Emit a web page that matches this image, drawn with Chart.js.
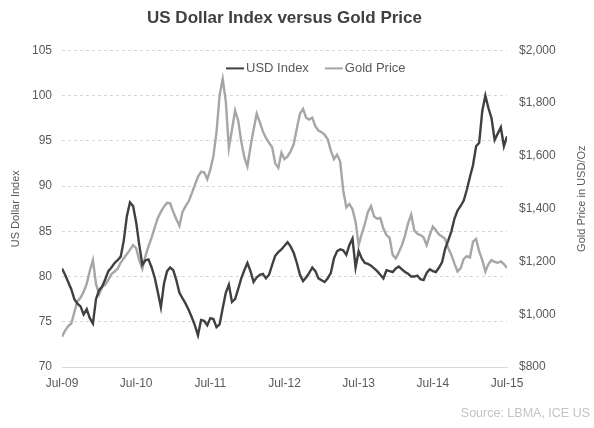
<!DOCTYPE html>
<html>
<head>
<meta charset="utf-8">
<script src="https://cdn.jsdelivr.net/npm/chart.js@4.4.0/dist/chart.umd.min.js"></script>
<style>
  html, body { margin: 0; padding: 0; background: #fff; }
</style>
</head>
<body>
<canvas id="chart" width="594" height="428"></canvas>
<script>
// x axis tick labels, one per year (every 12 months)
const tickLabels = ['Jul-09', 'Jul-10', 'Jul-11', 'Jul-12', 'Jul-13', 'Jul-14', 'Jul-15'];

// semi-monthly readings, Jul 2009 -> Jul 2015
const usdIndex = [
  80.9, 80.2, 79.4, 78.6, 77.5, 77.0, 76.7, 75.8, 76.4, 75.4,
  74.8, 77.5, 78.5, 78.9, 79.7, 80.6, 81.0, 81.5, 81.8, 82.2,
  84.0, 86.7, 88.2, 87.8, 86.0, 83.5, 81.3, 81.8, 81.9, 81.0,
  79.9, 78.3, 76.6, 79.2, 80.6, 81.0, 80.7, 79.6, 78.2, 77.6,
  77.0, 76.3, 75.5, 74.6, 73.5, 75.2, 75.1, 74.6, 75.4, 75.3,
  74.4, 74.7, 76.5, 78.2, 79.1, 77.2, 77.5, 78.6, 79.8, 80.7,
  81.5, 80.6, 79.4, 79.9, 80.2, 80.3, 79.8, 80.2, 81.3, 82.3,
  82.7, 83.0, 83.4, 83.8, 83.3, 82.6, 81.5, 80.2, 79.5, 79.9,
  80.4, 81.0, 80.6, 79.8, 79.6, 79.4, 79.8, 80.4, 82.0, 82.8,
  83.0, 82.9, 82.4, 83.5, 84.2, 81.0, 82.8, 82.0, 81.5, 81.4,
  81.2, 80.9, 80.6, 80.2, 79.8, 80.7, 80.6, 80.5, 80.9, 81.1,
  80.8, 80.5, 80.3, 80.0, 80.0, 80.1, 79.7, 79.6, 80.4, 80.8,
  80.6, 80.5, 81.0, 81.6, 83.1, 84.0, 85.0, 86.4, 87.3, 87.8,
  88.4, 89.6, 91.0, 92.3, 94.4, 94.8, 98.3, 100.0, 98.6, 97.5,
  95.1, 95.8, 96.5, 94.4, 95.5
];

const goldPrice = [
  915, 938, 955, 965, 1008, 1050, 1062, 1085, 1115, 1165,
  1205, 1115, 1075, 1104, 1112, 1130, 1152, 1162, 1172, 1196,
  1212, 1228, 1245, 1262, 1250, 1205, 1172, 1220, 1258, 1290,
  1328, 1365, 1388, 1408, 1422, 1420, 1388, 1360, 1335, 1388,
  1410, 1428, 1458, 1490, 1521, 1540, 1538, 1512, 1548, 1600,
  1690, 1830, 1892, 1808, 1630, 1699, 1772, 1735, 1655, 1595,
  1560, 1635, 1700, 1760, 1728, 1693, 1668, 1650, 1633, 1572,
  1555, 1612, 1588, 1598, 1618, 1645, 1705, 1760, 1778, 1745,
  1738, 1745, 1712, 1696, 1690, 1680, 1663, 1620, 1588, 1605,
  1580, 1470, 1405, 1418, 1398, 1350, 1262, 1305, 1342, 1388,
  1410, 1370, 1362, 1365, 1325, 1300, 1290, 1225, 1212, 1235,
  1262, 1298, 1345, 1378, 1318, 1305, 1300, 1292, 1262, 1300,
  1332, 1318, 1302, 1295, 1285, 1250, 1225, 1192, 1162, 1175,
  1210, 1220, 1215, 1275, 1285, 1238, 1205, 1162, 1190, 1205,
  1198, 1195, 1200, 1190, 1175
];

// months since Jul-09 for each reading (two per month)
const months = usdIndex.map((_, i) => i / 2);

const textGrey = '#595959';
const usdColor = '#404040';
const goldColor = '#a6a6a6';
Chart.defaults.font.family = "'Liberation Sans', Arial, sans-serif";

// legend drawn inside the plot, plus right axis title and source note
const extras = {
  id: 'extras',
  afterDraw(chart) {
    const ctx = chart.ctx;
    const area = chart.chartArea;
    ctx.save();
    ctx.font = "13px 'Liberation Sans', Arial, sans-serif";
    ctx.textBaseline = 'middle';
    ctx.fillStyle = textGrey;
    let x = 226;
    const y = area.top + 18;
    chart.data.datasets.forEach(ds => {
      ctx.strokeStyle = ds.borderColor;
      ctx.lineWidth = 2;
      ctx.beginPath();
      ctx.moveTo(x, y);
      ctx.lineTo(x + 18, y);
      ctx.stroke();
      x += 20;
      ctx.fillText(ds.label, x, y);
      x += ctx.measureText(ds.label).width + 16;
    });

    // right axis title, reading bottom to top
    ctx.font = "11px 'Liberation Sans', Arial, sans-serif";
    ctx.translate(582, (area.top + area.bottom) / 2 - 10);
    ctx.rotate(-Math.PI / 2);
    ctx.textAlign = 'center';
    ctx.fillText('Gold Price in USD/Oz', 0, 0);
    ctx.restore();

    ctx.save();
    ctx.font = "12.5px 'Liberation Sans', Arial, sans-serif";
    ctx.fillStyle = '#c4c4c4';
    ctx.textAlign = 'right';
    ctx.textBaseline = 'middle';
    ctx.fillText('Source: LBMA, ICE US', 590, 414);
    ctx.restore();
  }
};

new Chart(document.getElementById('chart'), {
  type: 'line',
  data: {
    datasets: [{
      label: 'USD Index',
      data: months.map((m, i) => ({ x: m, y: usdIndex[i] })),
      yAxisID: 'y',
      borderColor: usdColor,
      borderWidth: 2.4,
      pointRadius: 0,
      tension: 0
    }, {
      label: 'Gold Price',
      data: months.map((m, i) => ({ x: m, y: goldPrice[i] })),
      yAxisID: 'y1',
      borderColor: goldColor,
      borderWidth: 2.4,
      pointRadius: 0,
      tension: 0
    }]
  },
  options: {
    responsive: false,
    animation: false,
    devicePixelRatio: 1,
    layout: { padding: 0 },
    plugins: {
      legend: { display: false },
      tooltip: { enabled: false },
      title: {
        display: true,
        text: 'US Dollar Index versus Gold Price',
        fullSize: false,
        color: '#404040',
        font: { size: 17, weight: 'bold' },
        padding: { top: 8, bottom: 22 }
      }
    },
    scales: {
      x: {
        type: 'linear',
        min: 0,
        max: 72,
        grid: { display: false, drawTicks: false },
        border: { display: true, color: '#d9d9d9', width: 1 },
        ticks: {
          stepSize: 12,
          autoSkip: false,
          maxRotation: 0,
          padding: 9,
          color: textGrey,
          font: { size: 12 },
          callback: v => tickLabels[v / 12]
        },
        afterFit: s => { s.height = 61; }
      },
      y: {
        position: 'left',
        min: 70,
        max: 105,
        grid: { color: '#d6d6d6', drawTicks: false },
        border: { display: false, dash: [3, 3] },
        ticks: { stepSize: 5, padding: 10, color: textGrey, font: { size: 12 } },
        title: {
          display: true,
          text: 'US Dollar Index',
          color: textGrey,
          font: { size: 11 },
          padding: { top: 9, bottom: 0 }
        },
        afterFit: s => { s.width = 62; }
      },
      y1: {
        position: 'right',
        min: 800,
        max: 2000,
        grid: { drawOnChartArea: false, drawTicks: false },
        border: { display: false },
        ticks: {
          stepSize: 200,
          padding: 12,
          color: textGrey,
          font: { size: 12 },
          callback: v => '$' + v.toLocaleString('en-US')
        },
        afterFit: s => { s.width = 87; }
      }
    }
  },
  plugins: [extras]
});
</script>
</body>
</html>
